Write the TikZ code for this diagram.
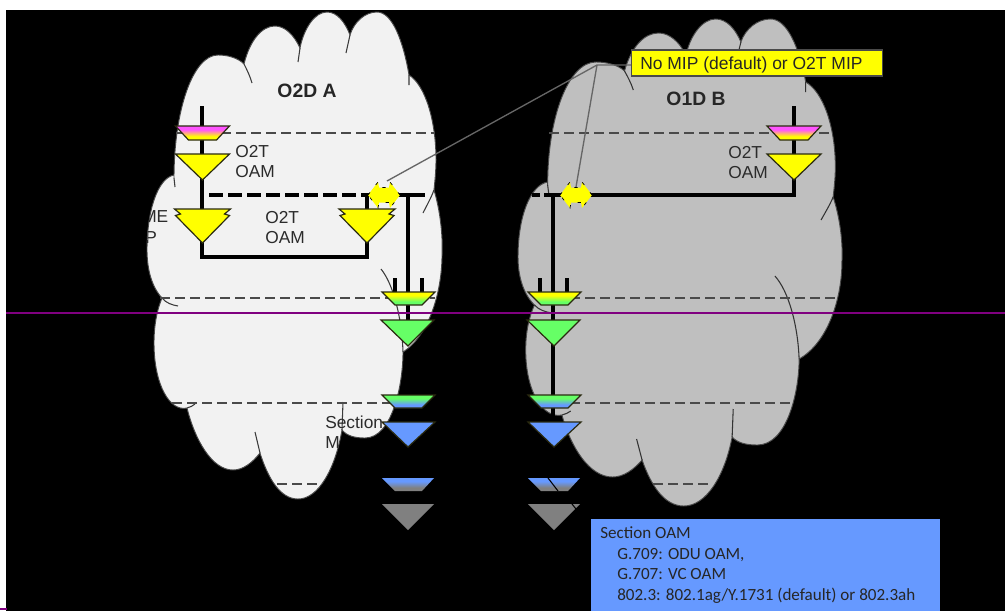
\documentclass[tikz,border=0pt]{standalone}
\usepackage{fontspec}
\setmainfont{Liberation Sans}
\newfontfamily\calib{Carlito}
\definecolor{cloudA}{HTML}{F2F2F2}
\definecolor{cloudB}{HTML}{BFBFBF}
\definecolor{edge}{HTML}{4A4A4A}
\definecolor{triedge}{HTML}{2A2A10}
\definecolor{pinkc}{HTML}{FF55FF}
\definecolor{yel}{HTML}{FFFF00}
\definecolor{grn}{HTML}{66FF66}
\definecolor{blu}{HTML}{6699FF}
\definecolor{gry}{HTML}{808080}
\definecolor{txt}{HTML}{2B2B2B}
\definecolor{purp}{HTML}{800080}
\definecolor{leadc}{HTML}{666666}
\pgfdeclareverticalshading{pinkyel}{100bp}{color(0bp)=(yel); color(38bp)=(yel); color(62bp)=(pinkc); color(100bp)=(pinkc)}
\pgfdeclareverticalshading{yelgrn}{100bp}{color(0bp)=(grn); color(38bp)=(grn); color(62bp)=(yel); color(100bp)=(yel)}
\pgfdeclareverticalshading{grnblu}{100bp}{color(0bp)=(blu); color(38bp)=(blu); color(62bp)=(grn); color(100bp)=(grn)}
\pgfdeclareverticalshading{blugry}{100bp}{color(0bp)=(gry); color(38bp)=(gry); color(62bp)=(blu); color(100bp)=(blu)}
\newcommand{\cloudoutline}{
  (174,178) .. controls (174,110) and (193,55) .. (218,55)
  .. controls (228,55) and (238,58) .. (244,64)
  .. controls (250,40) and (262,26) .. (275,26)
  .. controls (285,26) and (294,35) .. (300,48)
  .. controls (304,28) and (315,12) .. (327,12)
  .. controls (337,12) and (345,22) .. (350,35)
  .. controls (354,22) and (365,12) .. (377,12)
  .. controls (392,12) and (403,40) .. (409,75)
  .. controls (425,85) and (436,120) .. (436,160)
  .. controls (436,170) and (435,180) .. (434,190)
  .. controls (440,210) and (443,235) .. (442,255)
  .. controls (442,290) and (430,335) .. (403,352)
  .. controls (403,385) and (392,438) .. (365,438)
  .. controls (355,438) and (347,436) .. (342,430)
  .. controls (335,470) and (318,499) .. (298,499)
  .. controls (280,499) and (268,478) .. (260,453)
  .. controls (252,463) and (243,470) .. (233,470)
  .. controls (212,470) and (195,440) .. (187,408)
  .. controls (170,412) and (154,385) .. (154,343)
  .. controls (154,325) and (157,310) .. (162,298)
  .. controls (150,285) and (147,265) .. (147,250)
  .. controls (147,210) and (158,178) .. (174,175) -- cycle}
\newcommand{\cloudinner}{
  (174,178) -- (175,187)
  (244,64) .. controls (247,70) and (250,76) .. (252,83)
  (300,48) -- (298,62)
  (350,35) -- (346,53)
  (409,75) -- (409,85)
  (434,190) .. controls (431,198) and (427,205) .. (423,213)
  (381,269) .. controls (394,285) and (402,320) .. (403,352)
  (162,298) .. controls (166,303) and (172,305) .. (178,306)
  (187,408) .. controls (190,407) and (193,406) .. (195,404)
  (255,432) -- (260,453)
  (343,402) -- (342,430)}
\newcommand{\mipshape}[1]{(#1-16,195) -- (#1-6,182) -- (#1-5,187.5) -- (#1+5,187.5) -- (#1+6,182) -- (#1+16,195) -- (#1+6,208) -- (#1+5,202.5) -- (#1-5,202.5) -- (#1-6,208) -- cycle}
\tikzset{
  dashline/.style={draw=edge,line width=1pt,dash pattern=on 7.5pt off 3.75pt},
  thick line/.style={line width=3pt,black},
  leader/.style={draw=leadc,line width=1pt},
  tri/.style={draw=triedge,line width=.9pt,line join=miter},
  lab/.style={inner sep=0pt,anchor=base west,text=txt,font=\fontsize{13pt}{15pt}\selectfont},
  title/.style={inner sep=0pt,text=black!85,font=\bfseries\fontsize{14.5pt}{16pt}\selectfont},
  sect/.style={inner sep=0pt,anchor=base west,font=\calib\fontsize{12.8pt}{15pt}\selectfont,text=black!85},
}
\begin{document}
\begin{tikzpicture}[x=0.75pt,y=-0.75pt]
\useasboundingbox (0,0) rectangle (1005,611);
\fill[white] (0,0) rectangle (1005,611);
\fill[black] (6,10) rectangle (1005,611);
% clouds
\fill[cloudA,draw=edge,line width=.7pt] \cloudoutline;
\draw[edge!80!black,line width=.8pt] \cloudinner;
\begin{scope}[cm={1.098,0,0,1,(356.6*0.75pt,-7*0.75pt)}]
\fill[cloudB,draw=edge,line width=.7pt] \cloudoutline;
\draw[black!80,line width=.8pt] \cloudinner;
\end{scope}
% dashed domain lines
\draw[dashline] (176,133) -- (435,133);
\draw[dashline] (549,133) -- (833,133);
\draw[dashline] (160,298) -- (435,298);
\draw[dashline] (540,298) -- (838,298);
\draw[dashline] (172,403) -- (395,403);
\draw[dashline] (540,403) -- (793,403);
\draw[dashline] (277,484) -- (318,484);
\draw[dashline] (653,484) -- (710,484);
% anchor coordinates
\coordinate (a0) at (202,106);
\coordinate (a1) at (202,257);
\coordinate (a2) at (367,257);
\coordinate (a3) at (367,195);
\coordinate (aj) at (408,195);
\coordinate (ae) at (425,195);
\coordinate (as) at (209,195);
\coordinate (ab) at (408,320);
\coordinate (bj) at (553,195);
\coordinate (bs) at (532,195);
\coordinate (bb) at (553,395);
\coordinate (br) at (794,195);
\coordinate (bt) at (794,106);
% thick connectors
\draw[thick line,line join=miter] (a0) -- (a1) -- (a2) -- (a3);
\draw[thick line,dash pattern=on 10.5pt off 3.75pt] (as) -- (a3);
\draw[thick line] (a3) -- (ae);
\draw[thick line] (aj) -- (ab);
\draw[thick line] (395,278) -- (395,292);
\draw[thick line] (422,278) -- (422,292);
\draw[thick line,dash pattern=on 6pt off 3pt] (bs) -- (bj);
\draw[thick line] (bb) -- (bj) -- (br) -- (bt);
\draw[thick line] (540,278) -- (540,292);
\draw[thick line] (567,278) -- (567,292);
\draw[thick line] (553,405) -- (553,422);
% O2T elements
\foreach \cx in {202.5,794}{
  \shade[shading=pinkyel,tri] (\cx-27,126) -- (\cx+27,126) -- (\cx+14,140) -- (\cx-14,140) -- cycle;
  \fill[yel,tri] (\cx-27,154) -- (\cx+27,154) -- (\cx,180) -- cycle;
}
\foreach \cx in {202.5,367}{
  \fill[yel,tri] (\cx-28,209) -- (\cx+28,209) -- (\cx+22,214) -- (\cx+27,215.5) -- (\cx,243) -- (\cx-27,215.5) -- (\cx-22,214) -- cycle;
}
% stacked elements
\foreach \cx in {408,554}{
  \shade[shading=yelgrn,tri] (\cx-26,292) -- (\cx+27,292) -- (\cx+14,305) -- (\cx-13,305) -- cycle;
  \fill[grn,tri] (\cx-27,320) -- (\cx+26,320) -- (\cx,346) -- cycle;
  \shade[shading=grnblu,tri] (\cx-26,395) -- (\cx+27,395) -- (\cx+14,408) -- (\cx-13,408) -- cycle;
  \fill[blu,tri] (\cx-26,422) -- (\cx+27,422) -- (\cx,447) -- cycle;
  \shade[shading=blugry] (\cx-26,478) -- (\cx+26,478) -- (\cx+14,491) -- (\cx-13,491) -- cycle;
  \fill[gry] (\cx-26,504) -- (\cx+26,504) -- (\cx,530) -- cycle;
}
\draw[black,line width=.8pt] (548,478) -- (558,491);
\draw[black,line width=.8pt] (572,504) -- (576,509);
% MIP arrows
\foreach \cx in {384,576}{
  \fill[yel] \mipshape{\cx};
  \draw[black,line width=.5pt,dash pattern=on 2.5pt off 7pt] \mipshape{\cx};
}
\coordinate (mipa) at (387,181);
\coordinate (mipb) at (576,187);
% purple rules
\draw[purp,line width=1.5pt] (6,313) -- (1005,313);
\draw[purp,line width=1.5pt] (0,609) -- (7,609);
% callout
\node[draw=edge,fill=yel,line width=.8pt,minimum width=188pt,minimum height=19.5pt,inner sep=0pt,anchor=west] (mipbox) at (631,63) {};
\node[inner sep=0pt,anchor=base west,font=\fontsize{13.1pt}{15pt}\selectfont,text=black!85] (miptext) at (640,69) {No MIP (default) or O2T MIP};
\coordinate (elbow) at (597,65);
\draw[leader] (mipbox.west |- elbow) -- (elbow) -- (mipa);
\draw[leader] (elbow) -- (mipb);
% labels
\node[title] (d1) at (307,91) {O2D A};
\node[title] (d2) at (696,99) {O1D B};
\node[lab] (t1) at (235,157) {O2T};
\node[lab] (t2) at (235,177) {OAM};
\node[lab] (t3) at (265,223) {O2T};
\node[lab] (t4) at (265,243) {OAM};
\node[lab] (t5) at (728,158) {O2T};
\node[lab] (t6) at (728,178) {OAM};
\begin{scope}
\clip \cloudoutline;
\node[lab] (t7) at (142,222) {ME};
\node[lab] (t8) at (145,243) {P};
\end{scope}
\node[lab] (t9) at (325,428) {Section};
\node[lab] (t10) at (325,448) {M};
% section box
\fill[blu] (591,519) rectangle (940,611);
\node[sect] (s1) at (600,538) {Section OAM};
\node[sect] (s2) at (617,559) {G.709: ODU OAM,};
\node[sect] (s3) at (617,579) {G.707: VC OAM};
\node[sect] (s4) at (617,600) {802.3: 802.1ag/Y.1731 (default) or 802.3ah};
\end{tikzpicture}
\end{document}
